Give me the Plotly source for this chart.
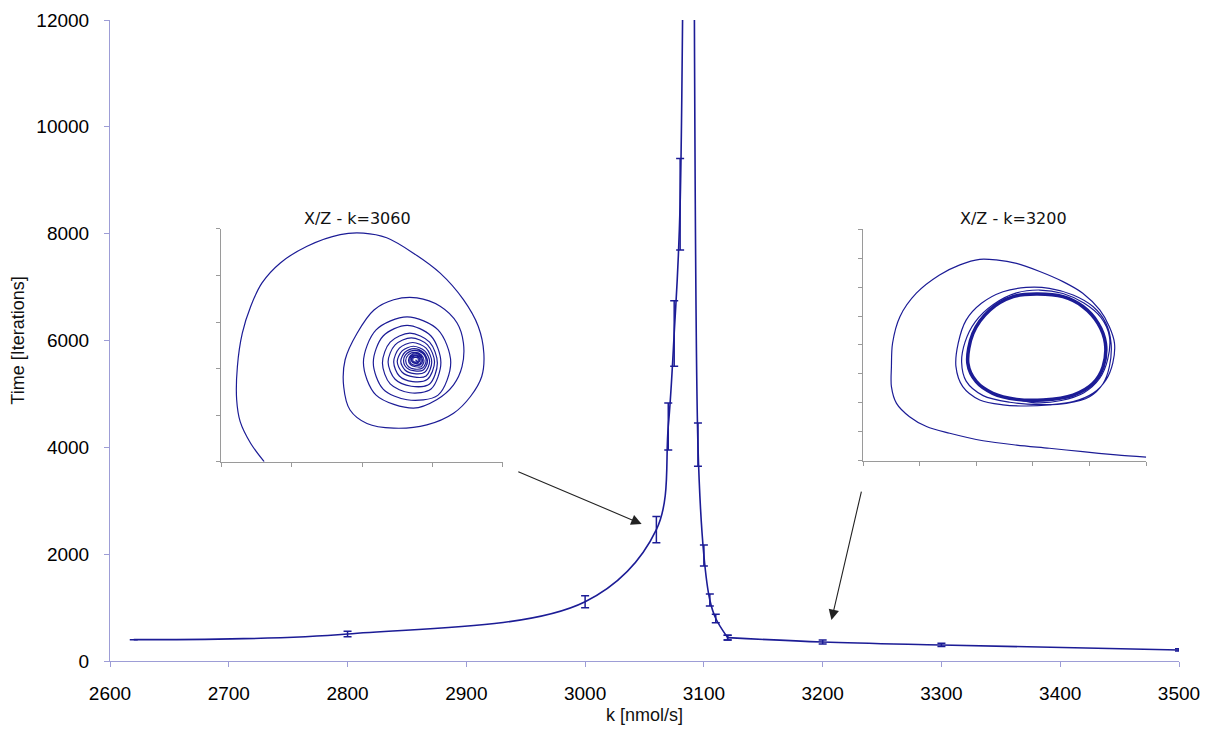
import plotly.graph_objects as go

# ---------------- main series ----------------
k_values = [2620, 2800, 3000, 3060, 3070, 3075, 3080, 3089, 3095, 3100, 3105, 3110, 3120, 3200, 3300, 3500]
time_values = [400, 505, 1110, 2460, 4390, 6130, 8550, 40000, 4050, 1975, 1142, 795, 437, 356, 300, 206]
time_errors = [0, 50, 111, 246, 439, 613, 855, 0, 405, 197, 114, 80, 44, 36, 30, 21]
KNEE = 12  # index of k=3120, where the steep branch joins the slow tail

# ---------------- inset 1 : X/Z - k=3060 (spiral to a fixed point) ----------------
inset1_x = [0.61, 0.42, 0.27, 0.22, 0.23, 0.30, 0.42, 0.58, 0.84, 1.22, 1.69, 2.02, 2.35, 2.73, 3.11, 3.44, 3.65, 3.73, 3.70, 3.54, 3.30, 2.92, 2.45,
            2.07, 1.83, 1.74, 1.76, 1.93, 2.17, 2.45, 2.78, 3.11, 3.35, 3.44, 3.42, 3.30, 3.06, 2.73,
            2.20, 2.02, 2.20, 2.64, 3.08, 3.26, 3.08,
            2.64, 2.30, 2.16, 2.30, 2.64, 2.98, 3.12, 2.98,
            2.68, 2.40, 2.29, 2.40, 2.68, 2.96, 3.07, 2.96,
            2.70, 2.47, 2.37, 2.47, 2.70, 2.93, 3.03, 2.93,
            2.72, 2.53, 2.45, 2.53, 2.72, 2.91, 2.99, 2.91,
            2.73, 2.57, 2.50, 2.57, 2.73, 2.89, 2.96, 2.89,
            2.74, 2.61, 2.55, 2.61, 2.74, 2.87, 2.93, 2.87,
            2.75, 2.64, 2.59, 2.64, 2.75, 2.86, 2.91, 2.86,
            2.75, 2.66, 2.62, 2.66, 2.75, 2.84, 2.88, 2.84,
            2.76, 2.69, 2.66, 2.69, 2.76, 2.83, 2.86, 2.83,
            2.76, 2.70, 2.68, 2.70, 2.76, 2.82, 2.84, 2.82,
            2.76, 2.72, 2.70, 2.72, 2.76, 2.80, 2.82, 2.80,
            2.76, 2.73, 2.72, 2.73, 2.76, 2.79, 2.80, 2.79,
            2.76]
inset1_y = [0.00, 0.39, 0.86, 1.33, 2.04, 2.76, 3.34, 3.84, 4.27, 4.63, 4.88, 4.91, 4.81, 4.48, 4.05, 3.48, 2.91, 2.33, 1.83, 1.40, 1.04, 0.79, 0.72,
            0.82, 1.11, 1.61, 2.19, 2.76, 3.26, 3.48, 3.52, 3.34, 2.98, 2.55, 2.04, 1.65, 1.33, 1.15,
            1.43, 2.13, 2.83, 3.11, 2.83, 2.13, 1.43,
            1.33, 1.56, 2.13, 2.70, 2.93, 2.70, 2.13, 1.56,
            1.48, 1.67, 2.12, 2.57, 2.76, 2.57, 2.12, 1.67,
            1.62, 1.77, 2.14, 2.51, 2.66, 2.51, 2.14, 1.77,
            1.72, 1.84, 2.14, 2.44, 2.56, 2.44, 2.14, 1.84,
            1.82, 1.92, 2.15, 2.38, 2.48, 2.38, 2.15, 1.92,
            1.89, 1.97, 2.16, 2.35, 2.43, 2.35, 2.16, 1.97,
            1.95, 2.01, 2.17, 2.33, 2.39, 2.33, 2.17, 2.01,
            1.99, 2.04, 2.17, 2.30, 2.35, 2.30, 2.17, 2.04,
            2.04, 2.08, 2.18, 2.28, 2.32, 2.28, 2.18, 2.08,
            2.07, 2.10, 2.18, 2.26, 2.29, 2.26, 2.18, 2.10,
            2.11, 2.13, 2.19, 2.25, 2.27, 2.25, 2.19, 2.13,
            2.14, 2.15, 2.19, 2.23, 2.24, 2.23, 2.19, 2.15,
            2.19]

# ---------------- inset 2 : X/Z - k=3200 (limit cycle) ----------------
inset2_x = [5.00, 4.47, 3.88, 3.29, 2.71, 2.12, 1.53, 1.12, 0.82, 0.59, 0.50, 0.50, 0.52, 0.65, 0.94, 1.35, 1.71, 2.06, 2.35, 2.71, 3.12, 3.53, 3.88, 4.18, 4.35, 4.44, 4.41, 4.29, 4.06, 3.71, 3.29, 2.88, 2.47, 2.06, 1.76, 1.64, 1.68, 1.82, 2.09, 2.47, 2.88, 3.29, 3.71, 4.06, 4.29, 4.38, 4.35, 4.24, 4.00, 3.59, 3.12,
            2.59, 2.12, 1.82, 1.74, 1.80, 1.98, 2.30, 2.71, 3.12, 3.53, 3.90, 4.20, 4.35, 4.32, 4.18, 3.90, 3.50, 3.06,
            2.71, 2.29, 2.00, 1.85, 1.94, 2.24, 2.65, 3.06, 3.53, 3.88, 4.15, 4.28, 4.24, 4.06, 3.71, 3.18, 2.71]
inset2_y = [0.12, 0.20, 0.31, 0.43, 0.54, 0.69, 0.95, 1.18, 1.52, 1.98, 2.56, 3.25, 4.06, 4.98, 5.79, 6.42, 6.77, 6.96, 6.94, 6.82, 6.54, 6.19, 5.79, 5.21, 4.63, 4.06, 3.37, 2.79, 2.33, 2.04, 1.93, 1.89, 1.93, 2.10, 2.56, 3.25, 4.06, 4.86, 5.44, 5.84, 5.99, 5.96, 5.73, 5.33, 4.75, 4.06, 3.25, 2.67, 2.21, 1.98, 1.94,
            2.02, 2.25, 2.75, 3.40, 4.10, 4.80, 5.40, 5.80, 5.90, 5.78, 5.45, 4.95, 4.30, 3.50, 2.85, 2.35, 2.08, 2.00,
            2.12, 2.33, 2.73, 3.37, 4.40, 5.21, 5.67, 5.76, 5.67, 5.33, 4.75, 4.06, 3.25, 2.67, 2.27, 2.10, 2.12]
cycle_x = [1.85, 1.94, 2.24, 2.65, 3.06, 3.53, 3.88, 4.15, 4.28, 4.24, 4.06, 3.71, 3.18, 2.71, 2.29, 2.00, 1.85]
cycle_y = [3.37, 4.40, 5.21, 5.67, 5.76, 5.67, 5.33, 4.75, 4.06, 3.25, 2.67, 2.27, 2.10, 2.12, 2.33, 2.73, 3.37]

# ---------------- labels ----------------
x_title = "k [nmol/s]"
y_title = "Time [Iterations]"
inset1_title = "X/Z - k=3060"
inset2_title = "X/Z - k=3200"
x_ticks = [2600, 2700, 2800, 2900, 3000, 3100, 3200, 3300, 3400, 3500]
y_ticks = [0, 2000, 4000, 6000, 8000, 10000, 12000]

NAVY = "#1c1c96"
AXIS = "#9d9dd6"
GREY = "#9a9a9a"

fig = go.Figure()
# steep part (up to the knee at 3120) and slow tail are smoothed separately
fig.add_trace(go.Scatter(
    x=k_values[:KNEE + 1], y=time_values[:KNEE + 1], mode="lines",
    line=dict(color=NAVY, width=1.6, shape="spline", smoothing=1.0),
    error_y=dict(type="data", array=time_errors[:KNEE + 1], visible=True, color=NAVY, thickness=1.5, width=4),
    showlegend=False, hoverinfo="skip"))
fig.add_trace(go.Scatter(
    x=k_values[KNEE:], y=time_values[KNEE:], mode="lines",
    line=dict(color=NAVY, width=1.6, shape="spline", smoothing=1.0),
    error_y=dict(type="data", array=time_errors[KNEE:], visible=True, color=NAVY, thickness=1.5, width=4),
    showlegend=False, hoverinfo="skip"))

fig.add_trace(go.Scatter(x=inset1_x, y=inset1_y, xaxis="x2", yaxis="y2", mode="lines",
                         line=dict(color=NAVY, width=1.2, shape="spline", smoothing=0.9),
                         showlegend=False, hoverinfo="skip"))
fig.add_trace(go.Scatter(x=inset2_x, y=inset2_y, xaxis="x3", yaxis="y3", mode="lines",
                         line=dict(color=NAVY, width=1.2, shape="spline", smoothing=0.9),
                         showlegend=False, hoverinfo="skip"))
fig.add_trace(go.Scatter(x=cycle_x, y=cycle_y, xaxis="x3", yaxis="y3", mode="lines",
                         line=dict(color=NAVY, width=3.5, shape="spline", smoothing=0.9),
                         showlegend=False, hoverinfo="skip"))

tickfont = dict(family="Liberation Sans, Arial, sans-serif", size=19, color="#000")
titlefont = dict(family="Liberation Sans, Arial, sans-serif", size=18, color="#111")

inset_axis = dict(showline=True, linecolor=GREY, linewidth=1, ticks="outside", ticklen=4,
                  tickcolor=GREY, showticklabels=False, showgrid=False, zeroline=False)

fig.update_layout(
    width=1193, height=717,
    margin=dict(l=102, r=22, t=12, b=64),
    paper_bgcolor="white", plot_bgcolor="white",
    xaxis=dict(range=[2600, 3500], tickvals=x_ticks, showline=True, linecolor=AXIS, linewidth=1,
               ticks="outside", ticklen=5, tickcolor=AXIS, showgrid=False, zeroline=False,
               tickfont=tickfont, ticklabelstandoff=10, tickformat="d", automargin=False,
               title=dict(text=x_title, font=titlefont, standoff=10)),
    yaxis=dict(range=[0, 12000], tickvals=y_ticks, showline=True, linecolor=AXIS, linewidth=1,
               ticks="outside", ticklen=5, tickcolor=AXIS, showgrid=False, zeroline=False,
               tickfont=tickfont, ticklabelstandoff=11, tickformat="d", automargin=False,
               title=dict(text=y_title, font=titlefont, standoff=9)),
    xaxis2=dict(domain=[0.104, 0.3675], anchor="y2", range=[0, 4], dtick=1, **inset_axis),
    yaxis2=dict(domain=[0.311, 0.674], anchor="x2", range=[0, 5], dtick=1, **inset_axis),
    xaxis3=dict(domain=[0.7045, 0.9693], anchor="y3", range=[0, 5], dtick=1, **inset_axis),
    yaxis3=dict(domain=[0.3125, 0.6735], anchor="x3", range=[0, 8], dtick=1, **inset_axis),
)

inset_font = dict(family="DejaVu Sans, Verdana, sans-serif", size=16, color="#111")
fig.add_annotation(text=inset1_title, xref="x2 domain", yref="y2 domain", x=0.485, y=1.0,
                   yanchor="bottom", yshift=-1, showarrow=False, font=inset_font)
fig.add_annotation(text=inset2_title, xref="x3 domain", yref="y3 domain", x=0.532, y=1.0,
                   yanchor="bottom", yshift=-1, showarrow=False, font=inset_font)

# arrows from the insets to the curve
fig.add_annotation(x=3047.6, y=2565, ax=2942.5, ay=3557, xref="x", yref="y", axref="x", ayref="y",
                   text="", showarrow=True, arrowhead=2, arrowsize=1.9, arrowwidth=1.1,
                   arrowcolor="#222", standoff=0)
fig.add_annotation(x=3207.4, y=767, ax=3232.9, ay=3201, xref="x", yref="y", axref="x", ayref="y",
                   text="", showarrow=True, arrowhead=2, arrowsize=1.9, arrowwidth=1.1,
                   arrowcolor="#222", standoff=0)

fig.write_html("out.html")
